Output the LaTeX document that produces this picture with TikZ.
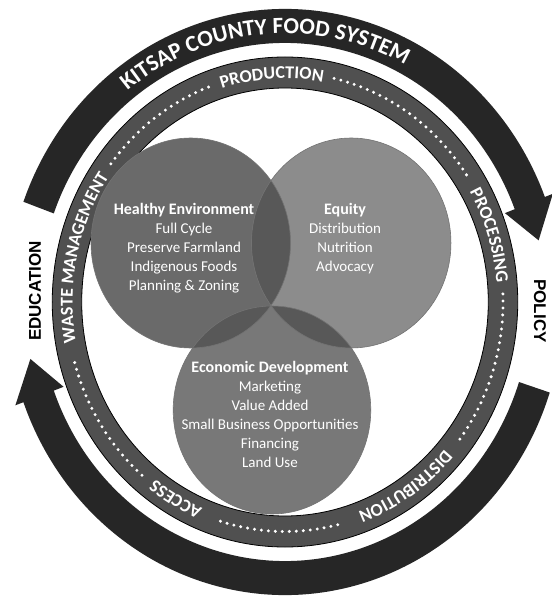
\documentclass[tikz,border=0pt]{standalone}
\usepackage{fontspec}
\setmainfont{Carlito}
\newfontfamily\sidefont{Liberation Sans}
\usepackage{xcolor}
\usetikzlibrary{decorations.text}

\definecolor{bandgray}{HTML}{262626}
\definecolor{ringgray}{HTML}{505050}
\definecolor{envgray}{HTML}{6A6A6A}
\definecolor{eqgray}{HTML}{8C8C8C}
\definecolor{econgray}{HTML}{787878}
\definecolor{lapgray}{HTML}{585858}
\definecolor{tripgray}{HTML}{727272}

\newcommand{\venntitle}[1]{{\bfseries\fontsize{16}{19}\selectfont #1}}
\newcommand{\ringfont}{\bfseries\fontsize{18}{18}\selectfont}
\newcommand{\kitsapfont}{\bfseries\fontsize{23}{23}\selectfont}

\begin{document}
\begin{tikzpicture}[
    x=0.95pt, y=1pt,
    band/.style={fill=bandgray},
    ring/.style={fill=ringgray, draw=black, line width=0.8pt, even odd rule},
    dots/.style={draw=white, line width=3.3pt, line cap=round, dash pattern=on 0pt off 7pt},
    circ/.style={draw=black!55, line width=0.6pt},
    venntext/.style={text=white, align=center, inner sep=0pt,
        font=\fontsize{15}{19}\selectfont},
    sidelabel/.style={inner sep=0pt, font=\sidefont\bfseries\fontsize{17}{17}\selectfont},
    ringtext/.style={decorate, decoration={text along path, text align=center,
        text color=white, text={|\ringfont|#1}}},
]
\useasboundingbox (-300,-295) rectangle (281.05,302);
\fill[white] (-300,-295) rectangle (281.05,302);

% outer arrows
\fill[band] (160:293) arc[start angle=160, end angle=21, radius=293]
  -- (21:302) -- (13:274) -- (21:248) -- (21:259)
  arc[start angle=21, end angle=160, radius=259] -- cycle;
\fill[band] (-18:293) arc[start angle=-18, end angle=-160, radius=293]
  -- (-160:302) -- (-168:274) -- (-160:248) -- (-160:259)
  arc[start angle=-160, end angle=-18, radius=259] -- cycle;
\path[decorate, decoration={text along path, text align=center, text color=white,
    text={|\kitsapfont|KITSAP COUNTY FOOD SYSTEM}}]
  (140:268.5) arc[start angle=140, end angle=50, radius=268.5];

% inner ring
\path[ring] (0,0) circle[radius=245] (0,0) circle[radius=214];
\foreach \s/\e in {77/33, 2/-37, -76/-109, -131/-166, 143/110}
  \draw[dots] (\s:229.5) arc[start angle=\s, end angle=\e, radius=229.5];

\path[ringtext=PRODUCTION] (125:223.5) arc[start angle=125, end angle=62, radius=223.5];
\path[ringtext=PROCESSING] (50:223.5) arc[start angle=50, end angle=-15, radius=223.5];
\path[ringtext=DISTRIBUTION] (-20:223.5) arc[start angle=-20, end angle=-92, radius=223.5];
\path[ringtext=ACCESS] (-95:223.5) arc[start angle=-95, end angle=-145, radius=223.5];
\path[ringtext=WASTE MANAGEMENT] (208:223.5) arc[start angle=208, end angle=128, radius=223.5];

% venn circles
\coordinate (envc) at (-99.2,59);
\coordinate (eqc) at (69.7,59);
\coordinate (econc) at (-13.7,-108);

\fill[envgray] (envc) circle[radius=105];
\fill[eqgray] (eqc) circle[radius=105];
\fill[econgray] (econc) circle[radius=104];
\begin{scope}
  \clip (envc) circle[radius=105];
  \fill[lapgray] (eqc) circle[radius=105];
  \fill[lapgray] (econc) circle[radius=104];
\end{scope}
\begin{scope}
  \clip (eqc) circle[radius=105];
  \fill[lapgray] (econc) circle[radius=104];
  \clip (envc) circle[radius=105];
  \fill[tripgray] (econc) circle[radius=104];
\end{scope}
\draw[circ] (envc) circle[radius=105];
\draw[circ] (eqc) circle[radius=105];
\draw[circ] (econc) circle[radius=104];

\node[venntext] (env) at (-106.3,54) {\venntitle{Healthy Environment}\\Full Cycle\\
  Preserve Farmland\\Indigenous Foods\\Planning \& Zoning};
\node[venntext] (equity) at (63.2,63.5) {\venntitle{Equity}\\Distribution\\Nutrition\\Advocacy};
\node[venntext] (econ) at (-15.8,-112.5) {\venntitle{Economic Development}\\Marketing\\
  Value Added\\Small Business Opportunities\\Financing\\Land Use};

% side labels
\node[sidelabel, rotate=90] (edu) at (-263.2,11) {EDUCATION};
\node[sidelabel, rotate=-90] (policy) at (268.4,-9) {POLICY};
\end{tikzpicture}
\end{document}
